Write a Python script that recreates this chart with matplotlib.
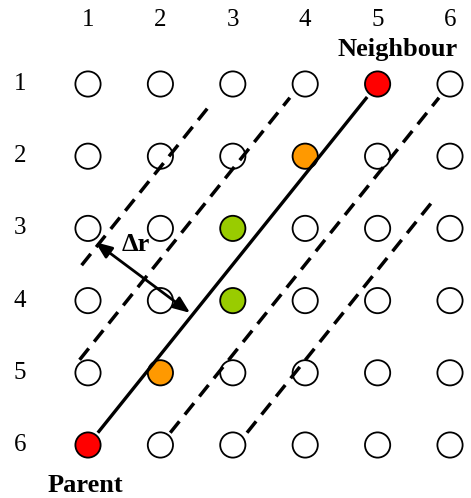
import matplotlib
matplotlib.use("Agg")
import matplotlib.pyplot as plt
import numpy as np

# Grid of cells
cols = [1, 2, 3, 4, 5, 6]
rows = [1, 2, 3, 4, 5, 6]
col_labels = ["1", "2", "3", "4", "5", "6"]
row_labels = ["1", "2", "3", "4", "5", "6"]

# Highlighted cells: (col, row, color)
hl_cols = [5, 4, 3, 3, 2, 1]
hl_rows = [1, 2, 3, 4, 5, 6]
hl_colors = ["#ff0000", "#ff9900", "#99cc00", "#99cc00", "#ff9900", "#ff0000"]

# Parallel lines: 5*col + 4*row = offset, drawn between row_start and row_end
line_offsets = [18.6, 23.7, 29.0, 34.0, 39.3]
line_row_start = [3.51, 4.82, 5.83, 5.83, 5.83]
line_row_end = [1.26, 1.19, 1.18, 1.19, 2.63]
line_solid = [False, False, True, False, False]

# Δr arrow endpoints (grid coords)
arrow_start = (1.10, 3.19)
arrow_end = (2.41, 4.17)

W, H = 471, 498
fig = plt.figure(figsize=(W / 100, H / 100), dpi=100)
ax = fig.add_axes([0, 0, 1, 1])
ax.set_xlim(1 - 88 / 72.4, 1 + (W - 88) / 72.4)
ax.set_ylim(1 + (H - 84) / 72.2, 1 - 84 / 72.2)
ax.axis("off")

serif = ["Liberation Serif", "DejaVu Serif"]

# circles
gc, gr = np.meshgrid(cols, rows)
fills = np.full(gc.shape, "white", dtype=object)
for c, r, col in zip(hl_cols, hl_rows, hl_colors):
    fills[rows.index(r), cols.index(c)] = col
ax.scatter(gc.ravel(), gr.ravel(), s=330, c=list(fills.ravel()),
           edgecolors="black", linewidths=1.3, zorder=2)

# lines (drawn over the circles)
for c, r0, r1, solid in zip(line_offsets, line_row_start, line_row_end, line_solid):
    rr = np.array([r0, r1])
    cc = (c - 4 * rr) / 5
    if solid:
        ax.plot(cc, rr, color="black", lw=2.4, solid_capstyle="butt", zorder=3)
    else:
        ax.plot(cc, rr, color="black", lw=2.5, dashes=(4.2, 2.5),
                dash_capstyle="butt", zorder=3)

# arrow
ax.annotate("", xy=arrow_end, xytext=arrow_start,
            arrowprops=dict(arrowstyle="<|-|>,head_length=1.0,head_width=0.4",
                            color="black", lw=2.0, shrinkA=0, shrinkB=0),
            zorder=4)

# labels
for c, lab in zip(cols, col_labels):
    ax.text(c, 0.114, lab, ha="center", va="center", fontsize=18, family=serif)
for r, lab in zip(rows, row_labels):
    ax.text(0.061, r, lab, ha="center", va="center", fontsize=18, family=serif)

ax.text(5.28, 0.52, "Neighbour", ha="center", va="center", fontsize=19,
        fontweight="bold", family=serif)
ax.text(0.97, 6.56, "Parent", ha="center", va="center", fontsize=19,
        fontweight="bold", family=serif)
ax.text(1.66, 3.22, "Δr", ha="center", va="center", fontsize=19,
        fontweight="bold", family=serif)

fig.savefig("out.png", dpi=100)
